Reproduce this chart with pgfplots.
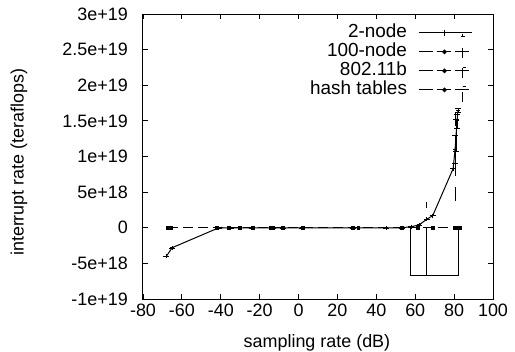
\documentclass[border=0pt]{standalone}
\usepackage{fontspec}
\setmainfont{Liberation Sans}
\usepackage{pgfplots}
\pgfplotsset{compat=1.18}
\begin{document}
\fontsize{18}{20}\selectfont
\begin{tikzpicture}
\begin{axis}[name=ax, scale only axis, width=350bp, height=285bp,
  xmin=-80, xmax=100, ymin=-1e19, ymax=3e19,
  xtick={-80,-60,-40,-20,0,20,40,60,80,100},
  xticklabels={-80,-60,-40,-20,0,20,40,60,80,100},
  ytick={-1e19,-5e18,0,5e18,1e19,1.5e19,2e19,2.5e19,3e19},
  yticklabels={-1e+19,-5e+18,0,5e+18,1e+19,1.5e+19,2e+19,2.5e+19,3e+19},
  scaled y ticks=false, scaled x ticks=false,
  tick align=inside, major tick length=5bp,
  tick style={black, line width=0.8bp},
  axis line style={line width=1bp},
  yticklabel style={anchor=east, inner sep=0pt, xshift=-15bp},
  xticklabel style={anchor=north, inner sep=0pt, yshift=-5bp},
  xlabel={sampling rate (dB)}, ylabel={interrupt rate (teraflops)},
  label style={font=\fontsize{19}{21}\selectfont},
  every axis x label/.style={at={(axis description cs:0.497,-0.154)}, anchor=center},
  every axis y label/.style={at={(axis description cs:-0.354,0.48)}, rotate=90, anchor=center},
  legend plot pos=right, legend cell align=right,
  legend style={draw=none, fill=none, at={(rel axis cs:0.94,0.961)}, anchor=north east,
    inner sep=0pt, outer sep=0pt, row sep=3.5bp, column sep=11bp,
    font=\fontsize{19}{21}\selectfont,
    nodes={inner sep=0pt, text height=12.5bp, text depth=3bp}},
  clip=false]

% 2-node (solid)
\addplot[black, line width=1bp, mark=+, mark size=2bp,
  legend image code/.code={\draw[black,line width=1bp] (0,0)--(53bp,0);
   \draw[line width=0.9bp] (26bp,-3bp)--(26bp,3bp) (44bp,-1bp)--(44bp,-4bp) (42bp,-4bp)--(46bp,-4bp);},
  error bars/.cd, y dir=both, y explicit,
  error bar style={line width=0.9bp}, error mark options={rotate=90, mark size=3bp}]
  coordinates {
  (-68,-4e18) +- (0,0) (-65,-2.8e18) +- (0,0) (-41,0) +- (0,0) (-35,0) +- (0,0)
  (-24,0) +- (0,0) (-13,0) +- (0,0) (-8,0) +- (0,0) (2,0) +- (0,0) (28,0) +- (0,0)
  (45,0) +- (0,0) (53,0) +- (0,0) (58,1.5e17) +- (0,0) (62,4e17) +- (0,0)
  (66,1.2e18) +- (0,0) (69,1.7e18) +- (0,0) (79.5,8.3e18) +- (0,0)
  (80.5,1.1e19) +- (0,2e18) (81,1.3e19) +- (0,2.2e18) (81.5,1.5e19) +- (0,1e18)
  (82,1.65e19) +- (0,3e17)};
\addlegendentry{2-node}
% 100-node (dashed)
\addplot[black, line width=1bp, dash pattern=on 10bp off 5bp, mark=square*, mark size=1.4bp,
  mark options={solid},
  legend image code/.code={\draw[black,line width=1bp,dash pattern=on 14bp off 4bp] (0,0)--(53bp,0);
   \fill (26bp,0) circle (1.7bp); \draw[line width=0.9bp] (44bp,-6bp)--(44bp,6bp) (44bp,0)--(47bp,0);}]
  coordinates {(-67,0) (-41.8,0) (-23.3,0) (-7.8,0) (28.2,0) (53.1,0) (80.5,0) (82,0)};
\addlegendentry{100-node}
% 802.11b (dashed)
\addplot[black, line width=1bp, dash pattern=on 10bp off 5bp, mark=square*, mark size=1.4bp,
  mark options={solid},
  legend image code/.code={\draw[black,line width=1bp,dash pattern=on 14bp off 4bp] (0,0)--(53bp,0);
   \fill (26bp,0) circle (1.7bp); \draw[line width=0.9bp] (44bp,-7bp)--(44bp,3bp) (44bp,3bp)--(47bp,3bp);}]
  coordinates {(-67,0) (-65.8,0) (-35.6,0) (-14.3,0) (2.2,0) (30.8,0) (61.6,0) (83,0)};
\addlegendentry{802.11b}
% hash tables (dashed)
\addplot[black, line width=1bp, dash pattern=on 10bp off 5bp, mark=square*, mark size=1.4bp,
  mark options={solid},
  legend image code/.code={\draw[black,line width=1bp,dash pattern=on 14bp off 4bp] (0,0)--(53bp,0);
   \fill (26bp,0) circle (1.7bp); \draw[line width=0.9bp] (44bp,-12bp)--(44bp,3bp) (44bp,3bp)--(47bp,3bp);}]
  coordinates {(-67,0) (-67.1,0) (-30.1,0) (-13,0) (69,0) (81,0) (82,0)};
\addlegendentry{hash tables}

% vertical dashes
\addplot[black, line width=1bp, dash pattern=on 13.7bp off 11.3bp, forget plot]
  coordinates {(80.5,1.62e19) (80.5,3.6e18)};
\addplot[black, line width=1bp, forget plot]
  coordinates {(65.8,2.75e18) (65.8,3.6e18)};
% boxes
\addplot[black, line width=1bp, forget plot]
  coordinates {(57.7,0) (57.7,-6.7e18) (82.5,-6.7e18) (82.5,0)};
\addplot[black, line width=1bp, forget plot]
  coordinates {(66,0) (66,-6.7e18)};
\end{axis}
\pgfresetboundingbox
\path[use as bounding box] ([shift={(-143bp,-53bp)}]ax.south west) rectangle ([shift={(22bp,14bp)}]ax.north east);
\end{tikzpicture}
\end{document}
